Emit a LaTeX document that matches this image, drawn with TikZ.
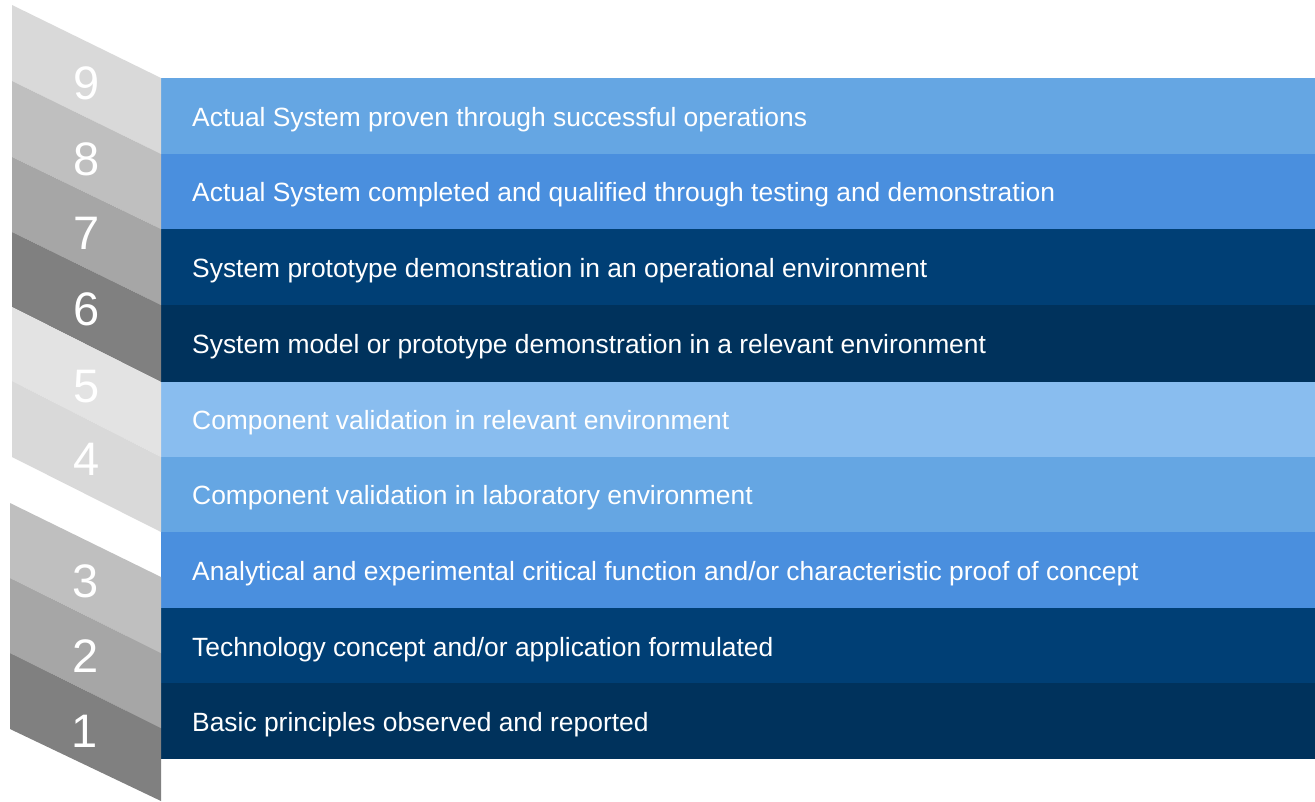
\documentclass[tikz,border=0pt]{standalone}
\usepackage{fontspec}
\setmainfont{Liberation Sans}
\definecolor{gA}{HTML}{D9D9D9}
\definecolor{gB}{HTML}{BFBFBF}
\definecolor{gC}{HTML}{A6A6A6}
\definecolor{gD}{HTML}{808080}
\definecolor{gE}{HTML}{E3E3E3}
\definecolor{bA}{HTML}{65A6E3}
\definecolor{bB}{HTML}{4A8FDE}
\definecolor{bC}{HTML}{003F75}
\definecolor{bD}{HTML}{00325C}
\definecolor{bE}{HTML}{89BDEF}
\tikzset{
  lbl/.style={anchor=base west, text=white, inner sep=0pt, font=\fontsize{26.4}{30}\selectfont},
  num/.style={anchor=base, text=white, inner sep=0pt, font=\fontsize{47}{50}\selectfont},
}
\begin{document}
\begin{tikzpicture}[x=1pt,y=-1pt]
\useasboundingbox (0,0) rectangle (1315,801);
% bars
\fill[bA] (161,78) rectangle (1315,154);
\fill[bB] (161,154) rectangle (1315,229);
\fill[bC] (161,229) rectangle (1315,305);
\fill[bD] (161,305) rectangle (1315,382);
\fill[bE] (161,382) rectangle (1315,457);
\fill[bA] (161,457) rectangle (1315,532);
\fill[bB] (161,532) rectangle (1315,608);
\fill[bC] (161,608) rectangle (1315,683);
\fill[bD] (161,683) rectangle (1315,759);
% parallelograms
\fill[gA] (12,5) -- (161,78) -- (161,154) -- (12,81) -- cycle;
\fill[gB] (12,81) -- (161,154) -- (161,229) -- (12,157) -- cycle;
\fill[gC] (12,157) -- (161,229) -- (161,305) -- (12,232) -- cycle;
\fill[gD] (12,232) -- (161,305) -- (161,382) -- (12,307) -- cycle;
\fill[gE] (12,307) -- (161,382) -- (161,457) -- (12,381) -- cycle;
\fill[gA] (12,381) -- (161,457) -- (161,532) -- (12,457) -- cycle;
\fill[gB] (10,503) -- (161,577) -- (161,653) -- (10,578) -- cycle;
\fill[gC] (10,578) -- (161,653) -- (161,728) -- (10,653) -- cycle;
\fill[gD] (10,653) -- (161,728) -- (161,801) -- (10,729) -- cycle;
% numbers
\node[num] (n9) at (87,99) {9};
\node[num] (n8) at (87,175) {8};
\node[num] (n7) at (87,249) {7};
\node[num] (n6) at (87,325) {6};
\node[num] (n5) at (87,402) {5};
\node[num] (n4) at (87,475) {4};
\node[num] (n3) at (86,597) {3};
\node[num] (n2) at (86,672) {2};
\node[num] (n1) at (85,747) {1};
% labels
\node[lbl] (t9) at (192,126) {Actual System proven through successful operations};
\node[lbl] (t8) at (192,201) {Actual System completed and qualified through testing and demonstration};
\node[lbl] (t7) at (192,277) {System prototype demonstration in an operational environment};
\node[lbl] (t6) at (192,353) {System model or prototype demonstration in a relevant environment};
\node[lbl] (t5) at (192,429) {Component validation in relevant environment};
\node[lbl] (t4) at (192,504) {Component validation in laboratory environment};
\node[lbl] (t3) at (192,580) {Analytical and experimental critical function and/or characteristic proof of concept};
\node[lbl] (t2) at (192,656) {Technology concept and/or application formulated};
\node[lbl] (t1) at (192,731) {Basic principles observed and reported};
\end{tikzpicture}
\end{document}
